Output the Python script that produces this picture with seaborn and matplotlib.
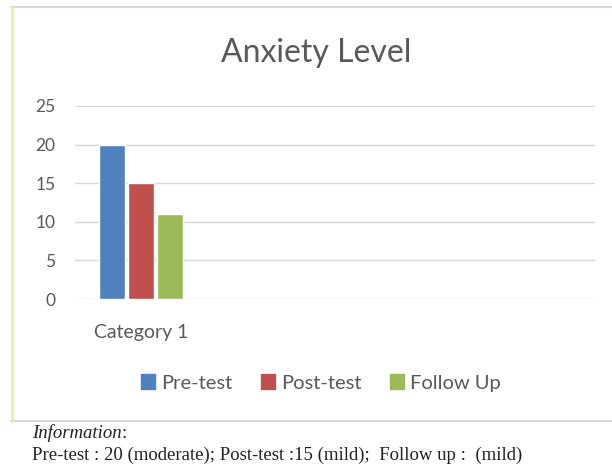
import pandas as pd
import matplotlib.pyplot as plt
import seaborn as sns
from matplotlib.patches import Rectangle
from matplotlib.lines import Line2D

# data
categories = ['Category 1']
series = ['Pre-test', 'Post-test', 'Follow Up']
values = [20, 15, 11]
colors = ['#4F81BD', '#C0504D', '#9BBB59']
y_ticks = [0, 5, 10, 15, 20, 25]

sns.set_theme(style='white')
plt.rcParams['font.family'] = ['Lato', 'DejaVu Sans']

df = pd.DataFrame({
    'Category': categories * len(series),
    'Series': series,
    'Value': values,
})

fig = plt.figure(figsize=(6.12, 4.68), dpi=100)

# chart frame (Excel style box)
fig.add_artist(Line2D([11 / 612, 1], [1 - 7 / 468, 1 - 7 / 468],
                      transform=fig.transFigure, color='#D9D9D9', lw=1.5))
fig.add_artist(Line2D([11 / 612, 1], [1 - 421 / 468, 1 - 421 / 468],
                      transform=fig.transFigure, color='#D9D9D9', lw=1.5))
fig.add_artist(Line2D([12 / 612, 12 / 612], [1 - 7 / 468, 1 - 421 / 468],
                      transform=fig.transFigure, color='#E8E8A8', lw=1.8))

ax = fig.add_axes([75 / 612, 1 - 299 / 468, 520 / 612, 193 / 468])
sns.barplot(data=df, x='Category', y='Value', hue='Series',
            hue_order=series, palette=colors, width=0.66, gap=0.12,
            saturation=1, legend=False, ax=ax)

ax.set_xlim(-0.5, 3.44)
ax.set_ylim(0, 25)
ax.set_yticks(y_ticks)
ax.grid(axis='y', color='#D9D9D9', linewidth=1)
ax.set_axisbelow(True)
for s in ax.spines.values():
    s.set_visible(False)
ax.tick_params(axis='y', length=0, pad=14, labelsize=12.5, labelcolor='#595959')
ax.tick_params(axis='x', length=0, pad=18, labelsize=14, labelcolor='#595959')
ax.set_xlabel('')
ax.set_ylabel('')

fig.text(316 / 612, 1 - 53 / 468, 'Anxiety Level', ha='center', va='center',
         fontsize=23, color='#595959')

handles = [Rectangle((0, 0), 1, 1, color=c) for c in colors]
fig.legend(handles, series, loc='center', bbox_to_anchor=(321 / 612, 1 - 383 / 468),
           ncol=3, frameon=False, fontsize=14.5, labelcolor='#595959',
           handlelength=0.7, handleheight=0.7, handletextpad=0.3, columnspacing=1.4)

# caption under the chart
info = fig.text(32 / 612, 1 - 433 / 468, 'Information', fontsize=13.5, style='italic',
                family='Liberation Serif', va='center', color='#222222')
ax.annotate(':', xy=(1, 0.5), xycoords=info, va='center', ha='left',
            fontsize=13.5, family='Liberation Serif', color='#222222',
            annotation_clip=False)
fig.text(32 / 612, 1 - 455 / 468,
         'Pre-test : 20 (moderate); Post-test :15 (mild);  Follow up :  (mild)',
         fontsize=13.5, family='Liberation Serif', va='center', color='#222222')

fig.savefig('out.png', dpi=100)
